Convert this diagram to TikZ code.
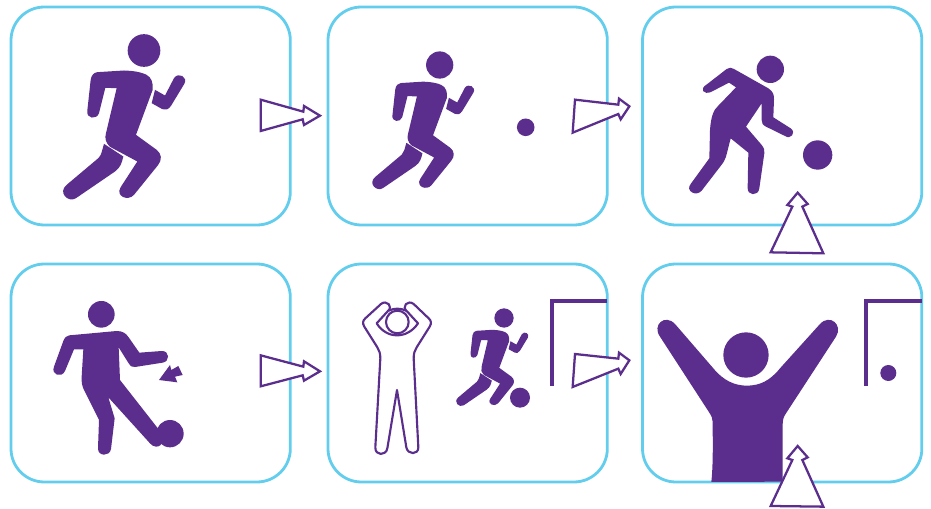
\documentclass[tikz,border=0pt]{standalone}
\definecolor{pur}{HTML}{5B2E8E}
\definecolor{sky}{HTML}{62CDEC}
\tikzset{
  x=0.75pt,y=-0.75pt,
  panel/.style={draw=sky,line width=2.1pt,fill=white,rounded corners=25pt,outer sep=0pt,inner sep=0pt,
    minimum width=209.5pt,minimum height=163.5pt,anchor=north west},
  solidfig/.style={fill=pur,draw=none},
  blockarrow/.style={draw=pur,fill=white,line width=1.7pt,line join=miter},
  outlinefig/.style={draw=pur,fill=white,line width=1.6pt,line join=round},
  doorline/.style={draw=pur,line width=2.9pt},
  zoomed/.style={xscale=1/3,yscale=1/3},
  pics/runner/.style={code={
    \begin{scope}[shift={(-432,-152)}]
    \fill[pur] (432,152) circle[radius=49];
    \fill[pur] (292,217) -- (372,212) .. controls (405,213) and (425,218) .. (438,224)
      .. controls (455,232) and (460,250) .. (458,270) -- (408,405) -- (470,450)
      .. controls (485,462) and (487,480) .. (474,496) -- (402,585)
      .. controls (385,605) and (345,590) .. (362,562) -- (412,485) -- (330,441)
      .. controls (318,430) and (313,415) .. (318,400) -- (350,265) -- (316,264) -- (297,340)
      .. controls (290,360) and (258,358) .. (262,332) -- (272,240)
      .. controls (274,226) and (282,218) .. (292,217) -- cycle;
    \fill[pur] (465,270) -- (495,287) -- (522,235)
      .. controls (535,215) and (565,232) .. (553,252) -- (513,318)
      .. controls (505,330) and (495,332) .. (487,328) -- (455,310) -- cycle;
    \fill[pur] (312,432) -- (370,470) .. controls (365,490) and (362,502) .. (345,515)
      -- (228,595) .. controls (205,610) and (172,578) .. (200,555) -- (295,475)
      .. controls (305,465) and (305,455) .. cycle;
    \end{scope}
  }}
}
\begin{document}
\begin{tikzpicture}
\useasboundingbox (0,0) rectangle (931,509);
% panels
\node[panel] (p1) at (11,7) {};
\node[panel] (p2) at (328,7) {};
\node[panel] (p3) at (642.5,7) {};
\node[panel] (p4) at (11,264) {};
\node[panel] (p5) at (328,264) {};
\node[panel] (p6) at (642.5,264) {};
% panel 1 and 2 runners
\pic[zoomed] at (144,50.5) {runner};
\pic[xscale=0.2778,yscale=0.2778] at (439.7,65) {runner};
\fill[pur] (525.7,127.3) circle[radius=8.8];
% panel 3
\begin{scope}[shift={(630,0)},zoomed]
\fill[pur] (421,208) circle[radius=41];
\fill[pur] (563,465) circle[radius=44];
\fill[pur] (232,252) -- (290,207) .. controls (298,202) and (305,202) .. (312,207) -- (415,265)
  .. controls (428,273) and (433,285) .. (432,298) -- (430,352) -- (482,385)
  .. controls (500,398) and (482,420) .. (465,408) -- (408,380) .. controls (398,375) and (395,370) .. (395,360)
  -- (395,310) -- (348,380) -- (395,435) .. controls (403,445) and (404,452) .. (403,460)
  -- (388,565) .. controls (385,590) and (350,588) .. (353,562) -- (355,458) -- (302,415) -- (288,470)
  .. controls (285,480) and (280,488) .. (272,498) -- (215,572)
  .. controls (198,592) and (165,572) .. (182,552) -- (238,475) -- (240,390)
  .. controls (243,350) and (250,330) .. (265,317) -- (318,262) -- (297,248) -- (243,276)
  .. controls (222,285) and (205,268) .. (232,252) -- cycle;
\end{scope}
% panel 4
\begin{scope}[shift={(0,260)},zoomed]
\fill[pur] (304,163) circle[radius=40];
\fill[pur] (510,521) circle[radius=41];
\fill[pur] (208,226) -- (350,213) .. controls (368,213) and (378,220) .. (386,232) -- (418,278) -- (485,273)
  .. controls (510,272) and (510,305) .. (488,308) -- (405,321) .. controls (395,322) and (390,318) .. (386,310)
  -- (356,262) -- (360,360) -- (472,503) .. controls (495,535) and (490,560) .. (468,560)
  .. controls (460,560) and (455,555) .. (450,550) -- (325,412) -- (344,475) -- (333,567)
  .. controls (330,590) and (293,590) .. (294,565) -- (297,480) -- (252,390)
  .. controls (246,378) and (244,365) .. (245,350) -- (250,268) -- (222,268) -- (195,333)
  .. controls (185,355) and (152,345) .. (162,320) -- (190,243) .. controls (194,232) and (200,227) .. (208,226) -- cycle;
\fill[pur] (477,360) -- (510,315) -- (514,330) -- (535,318) -- (548,345) -- (525,350) -- (532,367) -- cycle;
\end{scope}
% panel 5
\begin{scope}[shift={(330,260)},zoomed]
\draw[outlinefig] (201,390) -- (172,565) .. controls (168,588) and (135,588) .. (136,562)
  -- (151,295) .. controls (151,280) and (148,272) .. (142,262) -- (103,200)
  .. controls (97,190) and (98,182) .. (106,175) -- (153,132) .. controls (170,118) and (192,140) .. (172,155)
  -- (140,190) .. controls (170,238) and (232,238) .. (264,190) -- (232,155)
  .. controls (212,140) and (234,118) .. (251,132) -- (296,175) .. controls (304,182) and (305,190) .. (299,200)
  -- (260,262) .. controls (254,272) and (251,280) .. (251,295)
  -- (265,562) .. controls (266,585) and (233,585) .. (229,562) -- cycle;
\draw[outlinefig,fill=none] (176,152) .. controls (192,144) and (212,144) .. (228,152);
\draw[outlinefig] (202,186) circle[radius=34];
\end{scope}
\pic[xscale=0.197,yscale=0.197] at (504,318) {runner};
\begin{scope}[shift={(330,260)},zoomed]
\fill[pur] (570,413) circle[radius=30];
\draw[doorline] (665,378) -- (665,124) -- (832,124);
\end{scope}
% panel 6
\begin{scope}[shift={(630,260)},zoomed]
\fill[pur] (348,285) circle[radius=68];
\fill[pur] (90,230) .. controls (65,195) and (105,160) .. (135,192) -- (250,325)
  .. controls (280,362) and (315,377) .. (350,377) .. controls (390,377) and (420,362) .. (450,325)
  -- (570,192) .. controls (600,160) and (640,195) .. (618,230) -- (468,460)
  .. controls (460,472) and (458,480) .. (458,495) -- (458,665) -- (244,666)
  .. controls (250,610) and (248,540) .. (248,485) .. controls (248,475) and (244,468) .. (238,458) -- cycle;
\draw[doorline,line width=3pt] (708,378) -- (708,124) -- (876,124);
\fill[pur] (775,339) circle[radius=24];
\end{scope}
% block arrows
\begin{scope}[zoomed]
\draw[blockarrow] (782,299) -- (910,335) -- (912,318) -- (960,347) -- (912,375) -- (908,358) -- (782,393) -- cycle;
\end{scope}
\begin{scope}[shift={(330,0)},zoomed]
\draw[blockarrow] (735,299) -- (865,314) -- (867,296) -- (898,319) -- (872,358) -- (865,342) -- (728,398) -- cycle;
\end{scope}
\begin{scope}[shift={(630,0)},zoomed]
\draw[blockarrow] (503,578) -- (533,612) -- (517,620) -- (580,760) -- (422,757) -- (487,620) -- (472,615) -- cycle;
\end{scope}
\begin{scope}[shift={(0,260)},zoomed]
\draw[blockarrow] (782,286) -- (910,320) -- (912,304) -- (960,334) -- (912,362) -- (908,346) -- (782,379) -- cycle;
\end{scope}
\begin{scope}[shift={(330,260)},zoomed]
\draw[blockarrow] (735,282) -- (865,296) -- (867,278) -- (898,301) -- (872,342) -- (865,326) -- (728,381) -- cycle;
\end{scope}
\begin{scope}[shift={(630,260)},zoomed]
\draw[blockarrow] (503,558) -- (533,592) -- (517,600) -- (580,740) -- (422,738) -- (487,600) -- (472,595) -- cycle;
\end{scope}
\end{tikzpicture}
\end{document}
